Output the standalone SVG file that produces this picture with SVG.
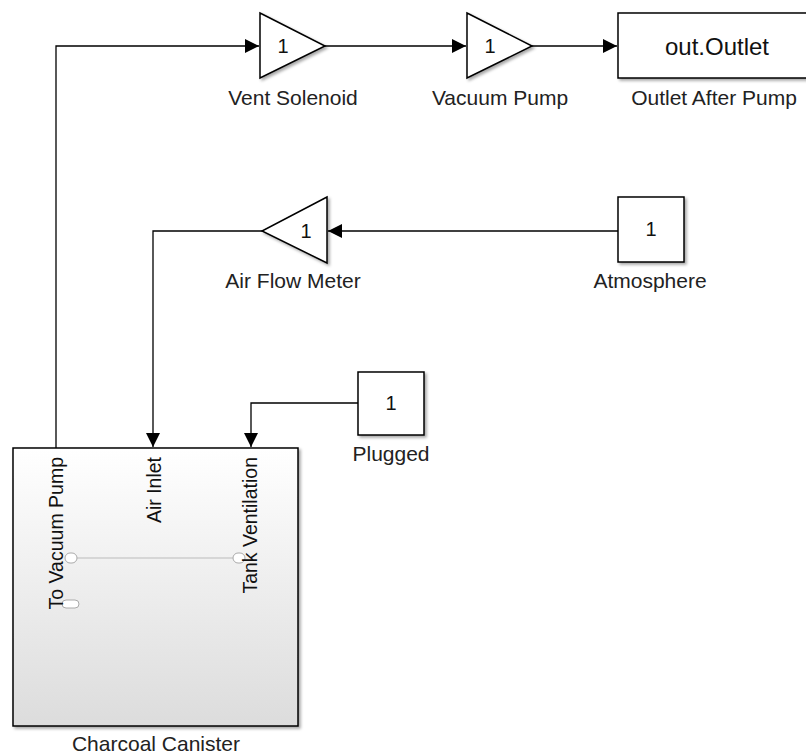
<svg xmlns="http://www.w3.org/2000/svg" width="806" height="754" viewBox="0 0 806 754">
<style>
.blk{fill:#fff;stroke:#000;stroke-width:1.5;filter:url(#sh)}
.ln{fill:none;stroke:#000;stroke-width:1.3}
.lbl{font-family:"Liberation Sans",Arial,sans-serif;font-size:21px;fill:#222;text-anchor:middle}
.num{font-family:"Liberation Sans",Arial,sans-serif;font-size:20px;fill:#111;text-anchor:middle}
.port{font-family:"Liberation Sans",Arial,sans-serif;font-size:19.5px;fill:#111;text-anchor:end}
.pp{fill:#fff;stroke:#aaa;stroke-width:1}
</style>
<defs>
<filter id="sh" x="-10%" y="-10%" width="130%" height="130%">
<feDropShadow dx="2" dy="2" stdDeviation="1.5" flood-color="#000" flood-opacity="0.35"/>
</filter>
<linearGradient id="cg" x1="0" y1="0" x2="0" y2="1">
<stop offset="0" stop-color="#ffffff"/>
<stop offset="1" stop-color="#dcdcdc"/>
</linearGradient>
<marker id="ah" markerWidth="15" markerHeight="14" refX="14" refY="7" orient="auto" markerUnits="userSpaceOnUse">
<path d="M0,0 L14,7 L0,14 Z" fill="#000"/>
</marker>
</defs>
<g id="connectors">
<path class="ln" d="M56,448 V46 H259" marker-end="url(#ah)"/>
<path class="ln" d="M325,46 H466" marker-end="url(#ah)"/>
<path class="ln" d="M532,46 H617" marker-end="url(#ah)"/>
<path class="ln" d="M618,231 H328" marker-end="url(#ah)"/>
<path class="ln" d="M262,231 H153 V447" marker-end="url(#ah)"/>
<path class="ln" d="M358,403 H251 V447" marker-end="url(#ah)"/>
</g>
<g id="vent-solenoid">
<polygon class="blk" points="260,13 325,46 260,78"/>
<text class="num" x="283" y="53">1</text>
<text class="lbl" x="293" y="105">Vent Solenoid</text>
</g>
<g id="vacuum-pump">
<polygon class="blk" points="467,13 532,46 467,78"/>
<text class="num" x="490" y="53">1</text>
<text class="lbl" x="500" y="105">Vacuum Pump</text>
</g>
<g id="outlet-after-pump">
<rect class="blk" x="618" y="13" width="200" height="65"/>
<text class="lbl" x="717" y="55" style="font-size:24px;fill:#111">out.Outlet</text>
<text class="lbl" x="714" y="105">Outlet After Pump</text>
</g>
<g id="air-flow-meter">
<polygon class="blk" points="327,197 262,231 327,263"/>
<text class="num" x="306" y="238">1</text>
<text class="lbl" x="293" y="288">Air Flow Meter</text>
</g>
<g id="atmosphere">
<rect class="blk" x="618" y="197" width="66" height="65"/>
<text class="num" x="651" y="236">1</text>
<text class="lbl" x="650" y="288">Atmosphere</text>
</g>
<g id="plugged">
<rect class="blk" x="358" y="372" width="66" height="63"/>
<text class="num" x="391" y="410">1</text>
<text class="lbl" x="391" y="461">Plugged</text>
</g>
<g id="charcoal-canister">
<rect x="13" y="448" width="285" height="278" fill="url(#cg)" stroke="#000" stroke-width="1.5" filter="url(#sh)"/>
<line x1="77" y1="558" x2="233" y2="558" stroke="#bbb" stroke-width="1"/>
<rect class="pp" x="65" y="553" width="12" height="10" rx="5"/>
<rect class="pp" x="233" y="553" width="12" height="10" rx="5"/>
<rect class="pp" x="62" y="600" width="17" height="8" rx="4"/>
<text class="port" transform="translate(63,457) rotate(-90)">To Vacuum Pump</text>
<text class="port" transform="translate(161,457) rotate(-90)">Air Inlet</text>
<text class="port" transform="translate(257,457) rotate(-90)">Tank Ventilation</text>
<text class="lbl" x="156" y="751">Charcoal Canister</text>
</g>
</svg>
